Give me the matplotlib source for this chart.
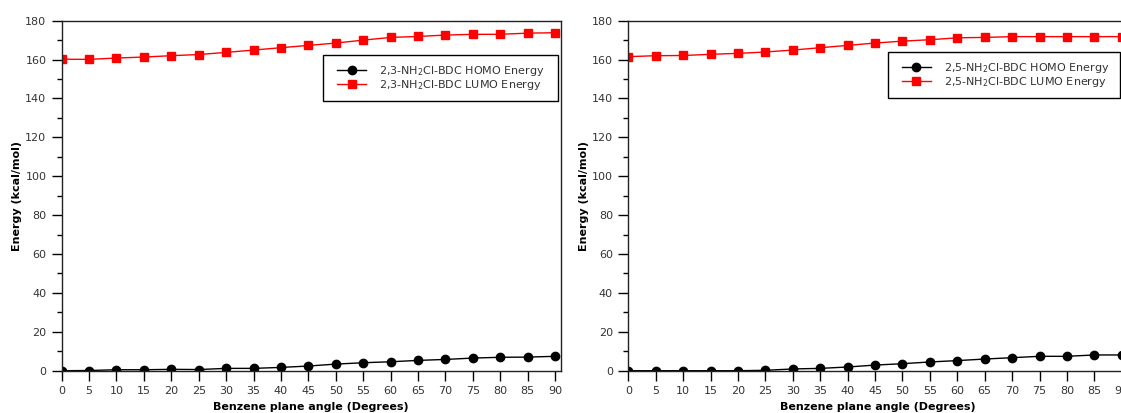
import numpy as np
import matplotlib
matplotlib.use("Agg")
import matplotlib.pyplot as plt
from matplotlib.ticker import MultipleLocator
from matplotlib.legend_handler import HandlerLine2D

# benzene plane angle (degrees)
angles = [0, 5, 10, 15, 20, 25, 30, 35, 40, 45, 50, 55, 60, 65, 70, 75, 80, 85, 90]

# 2,3-NH2Cl-BDC energies (kcal/mol)
homo_23 = [0.0, 0.1, 0.5, 0.5, 0.7, 0.6, 1.2, 1.2, 1.7, 2.4, 3.4, 4.1, 4.6, 5.3, 5.8, 6.5, 6.9, 7.0, 7.4]
lumo_23 = [160.2, 160.1, 160.8, 161.3, 162.0, 162.6, 163.7, 164.9, 166.1, 167.3,
           168.5, 170.0, 171.4, 171.9, 172.6, 173.0, 173.0, 173.6, 173.8]

# 2,5-NH2Cl-BDC energies (kcal/mol)
homo_25 = [0.0, 0.0, 0.0, 0.0, 0.0, 0.2, 0.9, 1.2, 1.9, 2.9, 3.6, 4.5, 5.2, 6.0, 6.7, 7.4, 7.4, 8.1, 8.1]
lumo_25 = [161.5, 162.0, 162.1, 162.7, 163.2, 163.9, 164.9, 166.1, 167.3, 168.5,
           169.5, 170.2, 171.2, 171.4, 171.8, 171.8, 171.8, 171.8, 171.8]

panels = [
    ("2,3", homo_23, lumo_23, [0.0550, 0.1024, 0.4451, 0.8475], (0.524, 0.77, 0.4706, 0.132)),
    ("2,5", homo_25, lumo_25, [0.5605, 0.1024, 0.4451, 0.8475], (0.520, 0.779, 0.465, 0.132)),
]

fig = plt.figure(figsize=(11.21, 4.13), dpi=100)

for name, homo, lumo, rect, leg_box in panels:
    ax = fig.add_axes(rect)
    l1, = ax.plot(angles, homo, color="black", lw=1.0, marker="o", ms=6,
                  label=f"{name}-NH$_2$Cl-BDC HOMO Energy")
    l2, = ax.plot(angles, lumo, color="red", lw=1.0, marker="s", ms=6,
                  label=f"{name}-NH$_2$Cl-BDC LUMO Energy")

    ax.set_xlim(0, 91)
    ax.set_ylim(0, 180)
    ax.xaxis.set_major_locator(MultipleLocator(5))
    ax.yaxis.set_major_locator(MultipleLocator(20))
    ax.yaxis.set_minor_locator(MultipleLocator(10))
    ax.tick_params(axis="both", which="major", direction="out", length=7,
                   width=1, labelsize=8, labelcolor="#333333", pad=4)
    ax.tick_params(axis="y", which="minor", direction="out", length=3.5, width=1)
    ax.tick_params(top=False, right=False)
    for sp in ax.spines.values():
        sp.set_linewidth(1)
        sp.set_color("#222222")

    ax.set_xlabel("Benzene plane angle (Degrees)", fontsize=8, fontweight="bold", labelpad=4)
    ax.set_ylabel("Energy (kcal/mol)", fontsize=8, fontweight="bold", labelpad=2)

    leg = ax.legend(loc="upper left", bbox_to_anchor=leg_box, mode="expand", fontsize=8,
                    frameon=True, fancybox=False, edgecolor="black", framealpha=1,
                    handlelength=3.1, borderpad=0.8, labelspacing=0.0,
                    handletextpad=1.15, borderaxespad=0,
                    handler_map={l1: HandlerLine2D(xpad=0.45), l2: HandlerLine2D(xpad=0.45)})
    leg.get_frame().set_linewidth(1)
    for t in leg.get_texts():
        t.set_color("#333333")

fig.savefig("out.png", dpi=100)
